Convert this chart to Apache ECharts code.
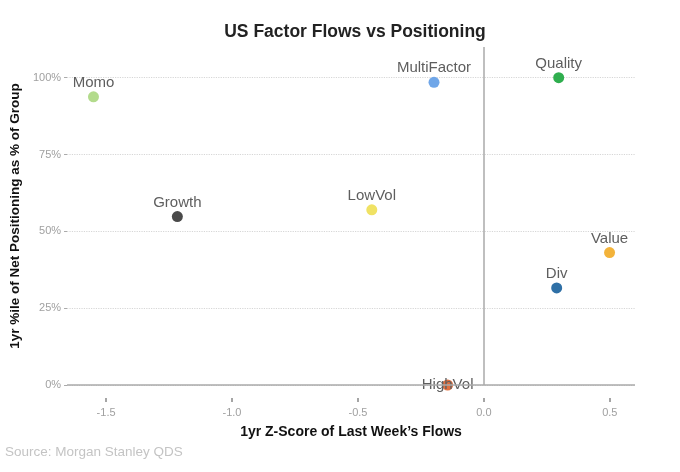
<!DOCTYPE html>
<html lang="en">
<head>
    <meta charset="UTF-8">
    <title>US Factor Flows vs Positioning</title>
    <script src="https://cdn.jsdelivr.net/npm/echarts@6.0.0/dist/echarts.min.js"></script>
</head>
<body style="margin:0;background:#fff;">
<div id="main" style="width:680px;height:472px;"></div>
<script type="text/javascript">
    // factor names, 1yr z-score of last week's flows, 1yr %ile of net positioning
    var factors = ['Momo', 'MultiFactor', 'Quality', 'Growth', 'LowVol', 'Value', 'Div', 'HighVol'];
    var flows = [-1.55, -0.198, 0.297, -1.217, -0.445, 0.499, 0.289, -0.144];
    var positioning = [93.8, 98.5, 100, 54.8, 57, 43.1, 31.6, 0];
    var colors = ['#b3db8c', '#6fa6e8', '#2fae4e', '#4a4a4a', '#f0e264', '#f3b33a', '#2f70a6', '#e2703f'];

    var xTicks = [-1.5, -1.0, -0.5, 0.0, 0.5];
    var yTicks = [0, 25, 50, 75, 100];

    var font = 'Liberation Sans';

    var points = [];
    for (var i = 0; i < factors.length; i++) {
        var p = {
            name: factors[i],
            value: [flows[i], positioning[i]],
            itemStyle: { color: colors[i], opacity: 1 }
        };
        if (factors[i] === 'HighVol') {
            p.label = { position: 'inside' };
        }
        points.push(p);
    }

    var myChart = echarts.init(document.getElementById('main'));
    myChart.setOption({
        backgroundColor: '#fff',
        animation: false,
        title: {
            text: 'US Factor Flows vs Positioning',
            left: 350,
            top: 18,
            textAlign: 'center',
            textStyle: { fontFamily: font, fontSize: 17.5, fontWeight: 'bold', color: '#222' }
        },
        graphic: [{
            type: 'text',
            left: 5,
            top: 445,
            style: { text: 'Source: Morgan Stanley QDS', fontFamily: font, fontSize: 13.5, fill: '#c4c4c4' }
        }],
        grid: { left: 65, right: 45, top: 47, bottom: 87 },
        xAxis: {
            type: 'value',
            min: -1.655,
            max: 0.6,
            offset: 13,
            name: '1yr Z-Score of Last Week\u2019s Flows',
            nameLocation: 'middle',
            nameGap: 27,
            nameTextStyle: { fontFamily: font, fontSize: 14, fontWeight: 'bold', color: '#111' },
            axisLine: { show: false, onZero: false },
            axisTick: { show: true, length: 4, customValues: xTicks, lineStyle: { color: '#888', width: 1.5 } },
            axisLabel: {
                customValues: xTicks,
                margin: 9,
                fontFamily: font, fontSize: 11, color: '#a0a0a0',
                formatter: function (v) { return v.toFixed(1); }
            },
            splitLine: { show: false }
        },
        yAxis: {
            type: 'value',
            min: 0,
            max: 110,
            name: '1yr %ile of Net Positioning as % of Group',
            nameLocation: 'middle',
            nameGap: 37,
            nameTextStyle: { fontFamily: font, fontSize: 13.5, fontWeight: 'bold', color: '#111' },
            axisLine: { show: false, onZero: false },
            axisTick: { show: true, length: 3, customValues: yTicks, lineStyle: { color: '#aaa' } },
            axisLabel: {
                customValues: yTicks,
                margin: 6,
                fontFamily: font, fontSize: 11, color: '#a0a0a0',
                formatter: '{value}%'
            },
            splitLine: { show: true, lineStyle: { color: '#d6d6d6', type: 'dotted', width: 1.2 } }
        },
        series: [{
            type: 'scatter',
            symbolSize: 11,
            data: points,
            label: {
                show: true,
                position: 'top',
                distance: 1,
                formatter: '{b}',
                fontFamily: font,
                fontSize: 15,
                color: '#5e5e5e'
            },
            markLine: {
                silent: true,
                symbol: 'none',
                label: { show: false },
                lineStyle: { color: '#aaa', type: 'solid', width: 1.5 },
                data: [{ xAxis: 0 }, { yAxis: 0 }]
            },
            z: 3
        }]
    });
</script>
</body>
</html>
